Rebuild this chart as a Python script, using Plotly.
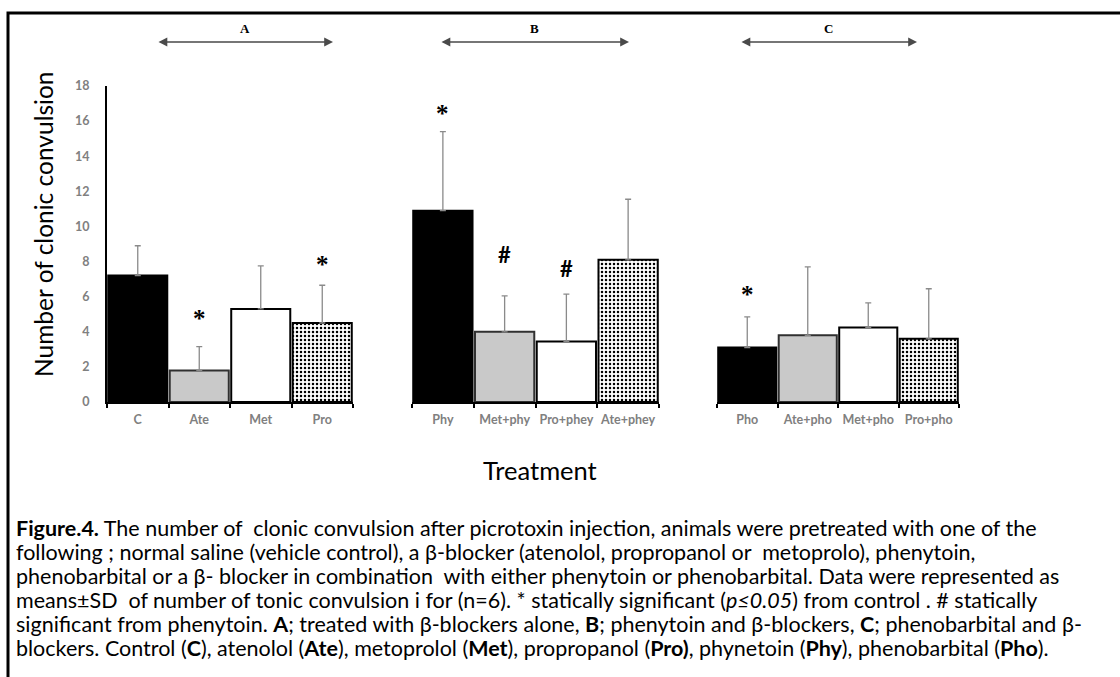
import plotly.graph_objects as go

# ---------------- data ----------------
group_a_labels = ["C", "Ate", "Met", "Pro"]
group_a_means = [7.2, 1.8, 5.3, 4.5]
group_a_sd = [1.7, 1.35, 2.45, 2.15]
group_a_marks = ["", "*", "", "*"]
group_a_mark_y = [None, 4.9, None, 8.0]

group_b_labels = ["Phy", "Met+phy", "Pro+phey", "Ate+phey"]
group_b_means = [10.9, 4.0, 3.45, 8.1]
group_b_sd = [4.5, 2.05, 2.7, 3.45]
group_b_marks = ["*", "#", "#", ""]
group_b_mark_y = [16.6, 8.4, 7.6, None]

group_c_labels = ["Pho", "Ate+pho", "Met+pho", "Pro+pho"]
group_c_means = [3.1, 3.8, 4.25, 3.6]
group_c_sd = [1.75, 3.9, 1.4, 2.85]
group_c_marks = ["*", "", "", ""]
group_c_mark_y = [6.3, None, None, None]

group_names = ["A", "B", "C"]
y_ticks = [0, 2, 4, 6, 8, 10, 12, 14, 16, 18]

caption_lines = [
    "<b>Figure.4.</b> The number of  clonic convulsion after picrotoxin injection, animals were pretreated with one of the",
    "following ; normal saline (vehicle control), a β-blocker (atenolol, propropanol or  metoprolo), phenytoin,",
    "phenobarbital or a β- blocker in combination  with either phenytoin or phenobarbital. Data were represented as",
    "means±SD  of number of tonic convulsion i for (n=6). * statically significant (<i>p≤0.05</i>) from control . # statically",
    "significant from phenytoin. <b>A</b>; treated with β-blockers alone, <b>B</b>; phenytoin and β-blockers, <b>C</b>; phenobarbital and β-",
    "blockers. Control (<b>C</b>), atenolol (<b>Ate</b>), metoprolol (<b>Met</b>), propropanol (<b>Pro)</b>, phynetoin (<b>Phy</b>), phenobarbital (<b>Pho</b>).",
]

# ---------------- layout helpers ----------------
W, H = 1120, 677
def px(x):
    return x / W
def py(y):
    return 1 - y / H

fill_colors = ["#000000", "#c9c9c9", "#ffffff", "#000000"]
line_colors = ["#000000", "#303030", "#000000", "#000000"]
pattern_shapes = ["", "", "", "."]

groups = [
    (group_a_labels, group_a_means, group_a_sd, group_a_marks, group_a_mark_y, "x", (107, 353)),
    (group_b_labels, group_b_means, group_b_sd, group_b_marks, group_b_mark_y, "x2", (412, 659)),
    (group_c_labels, group_c_means, group_c_sd, group_c_marks, group_c_mark_y, "x3", (717, 959)),
]

fig = go.Figure()
annotations = []
tick_font = dict(family="Lato", size=12.5, color="#808080", weight="bold")

layout_axes = {}
for i, (labels, means, sds, marks, mark_y, xref, dom) in enumerate(groups):
    fig.add_trace(go.Bar(
        x=labels, y=means, xaxis=xref, yaxis="y",
        marker=dict(
            color=fill_colors,
            line=dict(color=line_colors, width=2),
            pattern=dict(shape=pattern_shapes, bgcolor="#000000", fgcolor="#ffffff",
                         size=4, solidity=0.3),
        ),
        error_y=dict(type="data", symmetric=False, array=sds, arrayminus=[0] * len(sds),
                     color="#8a8a8a", thickness=1.3, width=3),
        showlegend=False, hoverinfo="x+y",
    ))
    axname = "xaxis" if i == 0 else f"xaxis{i + 1}"
    layout_axes[axname] = dict(
        type="category", domain=[px(dom[0]), px(dom[1])], anchor="y",
        range=[-0.5, 3.5], tickson="boundaries", ticks="outside", ticklen=4,
        tickwidth=1.5, tickcolor="#000000", showline=True, linecolor="#000000",
        linewidth=2, showgrid=False, zeroline=False, tickfont=tick_font,
        tickangle=0, ticklabelstandoff=5, automargin=False, fixedrange=True,
    )
    for lab, m, my in zip(labels, marks, mark_y):
        if m:
            annotations.append(dict(
                x=lab, y=my, xref=xref, yref="y", text=f"<b>{m}</b>", showarrow=False,
                font=dict(family="Liberation Serif" if m == "*" else "Lato",
                          size=25 if m == "*" else 22, color="#000000"),
                xanchor="center", yanchor="middle",
                yshift=-3 if m == "*" else 0,
            ))

layout_axes["yaxis"] = dict(
    domain=[py(402), py(86)], range=[0, 18], tickvals=y_ticks, anchor="x",
    showline=True, linecolor="#000000", linewidth=2, ticks="", showgrid=False,
    zeroline=False, tickfont=tick_font, ticklabelstandoff=13, automargin=False,
    fixedrange=True,
)

# group arrows and labels
arrow_spans = [(157, 333), (440, 629), (740, 917)]
for name, (a0, a1) in zip(group_names, arrow_spans):
    annotations.append(dict(
        x=px(a1), y=py(42), xref="paper", yref="paper", ax=-(a1 - a0), ay=0,
        axref="pixel", ayref="pixel", text="", showarrow=True, arrowside="end+start",
        arrowhead=2, arrowsize=1.1, arrowwidth=1.6, arrowcolor="#4a4a4a",
    ))
    annotations.append(dict(
        x=px((a0 + a1) / 2), y=py(28), xref="paper", yref="paper", text=f"<b>{name}</b>",
        showarrow=False, font=dict(family="Liberation Serif", size=13, color="#000000"),
        xanchor="center", yanchor="middle",
    ))

# axis titles
annotations.append(dict(
    x=px(44), y=py(225), xref="paper", yref="paper", text="Number of clonic convulsion",
    textangle=-90, showarrow=False, font=dict(family="Lato", size=24.5, color="#000000"),
    xanchor="center", yanchor="middle",
))
annotations.append(dict(
    x=px(540), y=py(470), xref="paper", yref="paper", text="Treatment",
    showarrow=False, font=dict(family="Lato", size=25.5, color="#000000"),
    xanchor="center", yanchor="middle",
))

# caption
for k, line in enumerate(caption_lines):
    annotations.append(dict(
        x=px(14), y=py(528 + 24 * k), xref="paper", yref="paper", text=line,
        showarrow=False, font=dict(family="Lato", size=21.5, color="#000000"),
        xanchor="left", yanchor="middle", align="left",
    ))

fig.update_layout(
    width=W, height=H, autosize=False, template="none",
    margin=dict(l=0, r=0, t=0, b=0, pad=0),
    paper_bgcolor="#ffffff", plot_bgcolor="rgba(0,0,0,0)",
    bargap=0.04, showlegend=False,
    annotations=annotations,
    shapes=[dict(type="rect", xref="paper", yref="paper", x0=px(8), x1=1.05,
                 y0=-0.05, y1=py(13), line=dict(color="#000000", width=3),
                 fillcolor="rgba(0,0,0,0)", layer="above")],
    **layout_axes,
)

fig.write_html("out.html")
